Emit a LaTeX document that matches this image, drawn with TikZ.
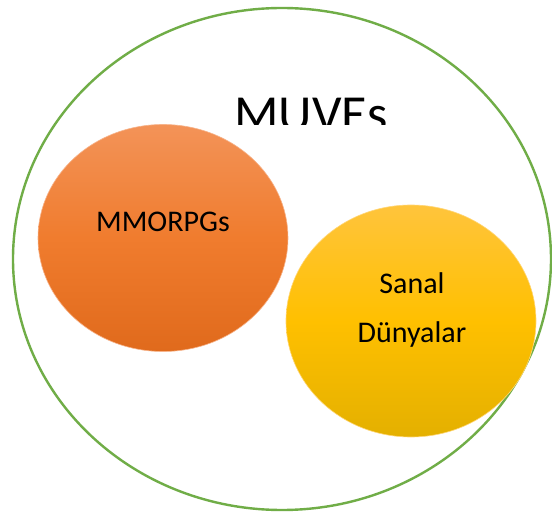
\documentclass[tikz,border=0pt]{standalone}
\usepackage{fontspec}
\setmainfont{Carlito}
\usetikzlibrary{shapes.geometric}
\definecolor{grn}{HTML}{70AD47}
\definecolor{orT}{HTML}{F39358}
\definecolor{orM}{HTML}{F07C2E}
\definecolor{orB}{HTML}{E06A1C}
\definecolor{yeT}{HTML}{FFC43C}
\definecolor{yeM}{HTML}{FFC000}
\definecolor{yeB}{HTML}{E4B000}
\tikzset{
  bubble/.style={ellipse, inner sep=0pt},
  lbl/.style={font=\fontsize{30}{49}\selectfont, text=black, align=center},
}
\begin{document}
\begin{tikzpicture}[x=1pt,y=-1pt]
\useasboundingbox (0,0) rectangle (552,513);
\fill[white] (0,0) rectangle (552,513);
\node[bubble, draw=grn, line width=2.4pt, minimum width=538pt, minimum height=502pt] (muves) at (282,259) {};
\begin{scope}
\clip (0,0) rectangle (552,125);
\node[anchor=base, font=\fontsize{52}{60}\selectfont] (title) at (311,131.5) {MUVEs};
\end{scope}
\node[bubble, top color=orT, bottom color=orB, middle color=orM, draw=orT!70!white, line width=0.6pt, minimum width=250pt, minimum height=227pt] (mmo) at (163,238) {};
\node[lbl, anchor=base] (mmot) at (163,232) {MMORPGs};
\node[bubble, top color=yeT, bottom color=yeB, middle color=yeM, draw=yeT!70!white, line width=0.6pt, minimum width=250pt, minimum height=232pt] (sanal) at (411,321) {};
\node[lbl] (sanalt) at (412,310.5) {Sanal\\Dünyalar};
\end{tikzpicture}
\end{document}
